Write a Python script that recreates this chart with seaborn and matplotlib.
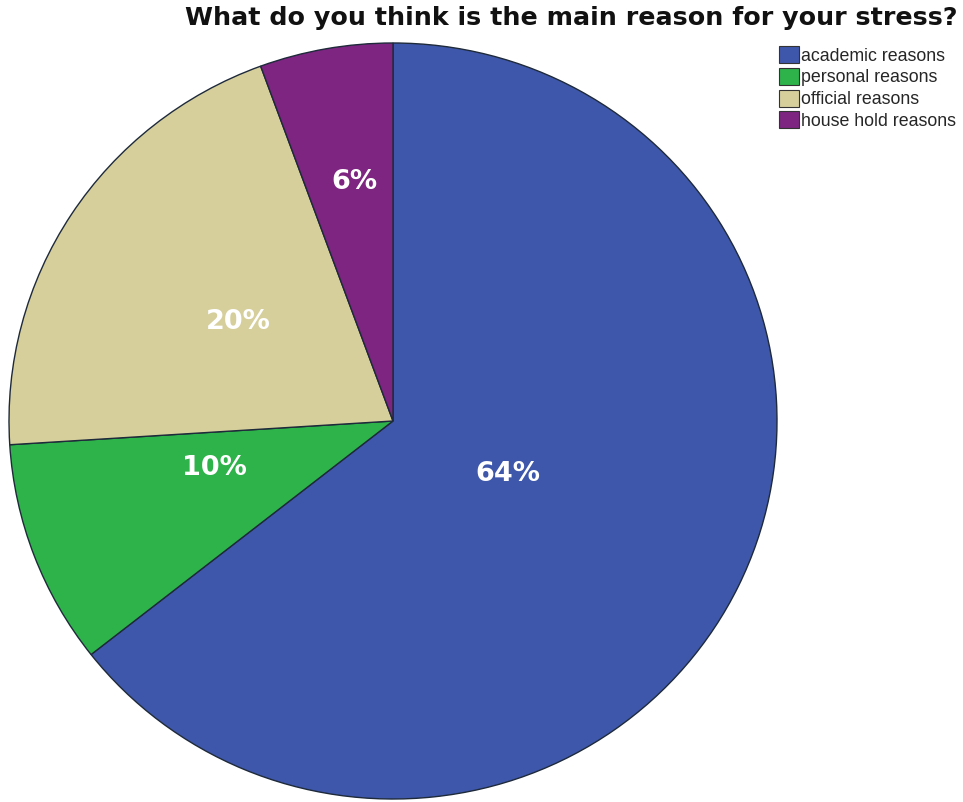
"""
Pie chart: main reason for stress (survey responses).
"""

import matplotlib.pyplot as plt
import numpy as np
import seaborn as sns
from matplotlib.patches import Patch

TITLE = "What do you think is the main reason for your stress?"
CATEGORIES = ["academic reasons", "personal reasons",
              "official reasons", "house hold reasons"]
PERCENTS = [64.4, 9.6, 20.4, 5.6]
COLORS = ["#3e57ab", "#2db34a", "#d6cf9c", "#7d2581"]

# label placement: distance from centre (fraction of radius), angle nudge (deg)
LABEL_DIST = [0.33, 0.48, 0.48, 0.64]
LABEL_NUDGE = [1, -6, 0, -1]


def main() -> None:
    sns.set_theme(style="white")
    plt.rcParams["font.family"] = ["Liberation Sans", "DejaVu Sans"]
    palette = sns.color_palette(COLORS)

    fig = plt.figure(figsize=(9.63, 8.02), dpi=100)
    # slightly squashed pie, like the source export
    ax = fig.add_axes([9 / 963, 3 / 802, 768 / 963, 756 / 802])

    wedges, _ = ax.pie(PERCENTS, colors=palette, startangle=90,
                       counterclock=False,
                       wedgeprops=dict(edgecolor="#1e2a3a", linewidth=1.0))
    ax.set_aspect("auto")
    ax.set_xlim(-1, 1)
    ax.set_ylim(-1, 1)

    for w, pct, d, nudge in zip(wedges, PERCENTS, LABEL_DIST, LABEL_NUDGE):
        mid = np.deg2rad((w.theta1 + w.theta2) / 2 + nudge)
        ax.text(d * np.cos(mid), d * np.sin(mid), f"{pct:.0f}%",
                ha="center", va="center", color="white",
                fontsize=19.5, fontweight="bold",
                family=["DejaVu Sans"])

    fig.text(0.593, 0.977, TITLE, ha="center", va="center",
             fontsize=18.3, fontweight="bold", color="#111111",
             family=["DejaVu Sans"])

    handles = [Patch(facecolor=c, edgecolor="#333333", linewidth=0.8)
               for c in palette]
    fig.legend(handles, CATEGORIES, loc="upper left",
               bbox_to_anchor=(779 / 963, 1 - 46 / 802),
               frameon=False, fontsize=12.8, handlelength=1.1,
               handleheight=1.1, handletextpad=0.15, labelspacing=0.18,
               borderaxespad=0, borderpad=0)

    fig.savefig("out.png", dpi=100)
    plt.close(fig)


if __name__ == "__main__":
    main()
